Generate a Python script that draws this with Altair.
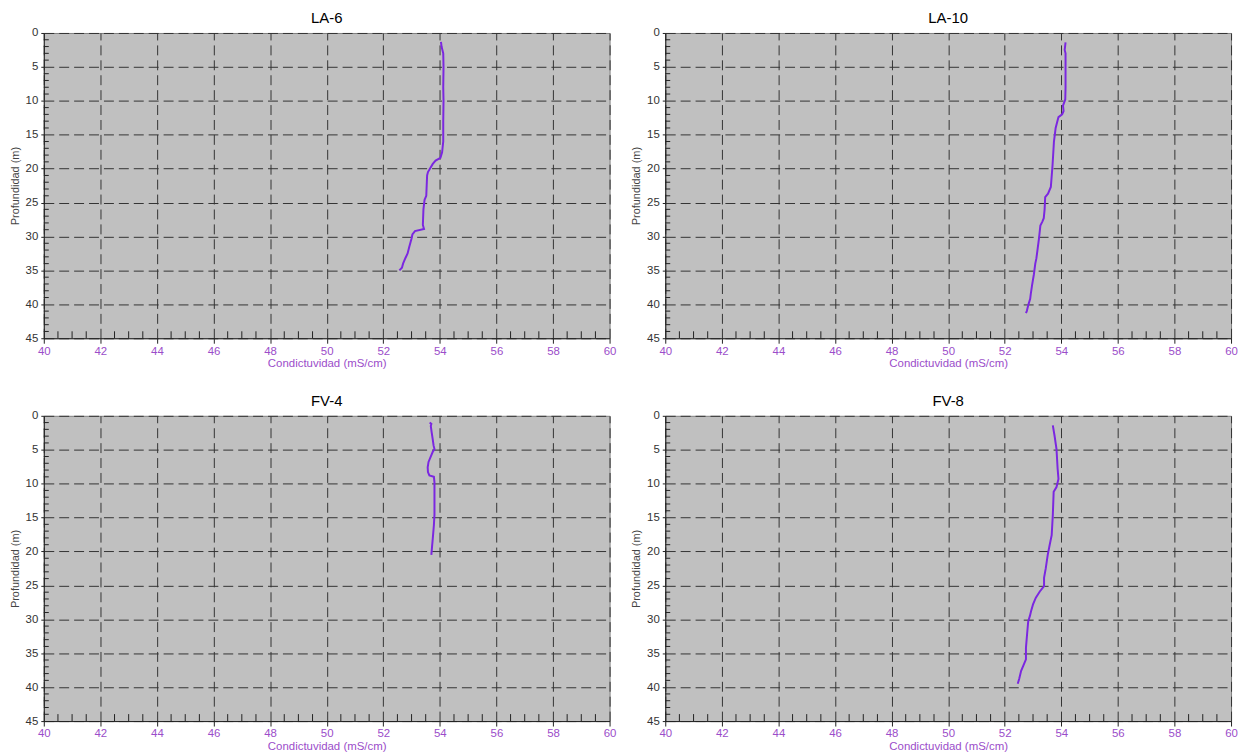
import altair as alt
import pandas as pd

# ---- data ----
stations = ["LA-6", "LA-10", "FV-4", "FV-8"]

la6_depth = [1.3, 2.0, 3.0, 5.0, 8.0, 10.0, 13.0, 16.0, 17.6, 18.4, 18.8, 19.3, 19.8, 20.5, 21.0,
             22.0, 24.0, 24.6, 26.0, 28.3, 28.9, 29.2, 29.7, 30.3, 31.5, 32.5, 33.2, 34.0, 34.6, 35.0]
la6_cond = [54.04, 54.06, 54.12, 54.13, 54.12, 54.13, 54.12, 54.12, 54.08, 54.02, 53.85, 53.75, 53.68,
            53.58, 53.55, 53.54, 53.52, 53.46, 53.42, 53.40, 53.44, 53.12, 53.03, 53.00, 52.92, 52.86,
            52.78, 52.70, 52.66, 52.57]

la10_depth = [1.4, 2.5, 3.0, 5.0, 8.0, 9.8, 10.7, 11.5, 12.0, 12.4, 13.2, 14.0, 16.0, 19.5, 22.7, 23.7,
              24.2, 26.0, 27.3, 27.8, 28.4, 30.3, 33.2, 34.0, 35.6, 37.1, 38.5, 39.2, 40.0, 41.0, 41.3]
la10_cond = [54.15, 54.12, 54.15, 54.15, 54.15, 54.14, 54.06, 54.08, 54.03, 53.90, 53.85, 53.80, 53.74,
             53.69, 53.63, 53.53, 53.43, 53.41, 53.38, 53.33, 53.26, 53.21, 53.12, 53.08, 53.03, 52.97,
             52.92, 52.90, 52.84, 52.78, 52.75]

fv4_depth = [1.0, 1.2, 1.5, 2.4, 3.5, 4.4, 4.9, 5.3, 5.8, 6.8, 7.6, 8.3, 8.8, 9.0, 9.8, 12.0, 14.6,
             16.1, 18.1, 19.5, 20.5]
fv4_cond = [53.64, 53.70, 53.68, 53.71, 53.75, 53.78, 53.81, 53.75, 53.70, 53.60, 53.57, 53.58, 53.63,
            53.79, 53.81, 53.81, 53.81, 53.79, 53.75, 53.72, 53.70]

fv8_depth = [1.4, 2.9, 4.9, 7.8, 9.3, 10.5, 11.2, 14.6, 17.6, 19.0, 20.5, 22.5, 23.9, 25.1, 25.9, 26.8,
             27.8, 28.8, 29.5, 30.3, 32.2, 34.2, 35.9, 36.6, 37.6, 38.8, 39.5]
fv8_cond = [53.70, 53.76, 53.83, 53.87, 53.90, 53.83, 53.73, 53.70, 53.66, 53.59, 53.52, 53.45, 53.39,
            53.39, 53.24, 53.10, 53.00, 52.93, 52.89, 52.83, 52.79, 52.75, 52.75, 52.68, 52.58, 52.51,
            52.46]

x_major = [40, 42, 44, 46, 48, 50, 52, 54, 56, 58, 60]
y_major = [0, 5, 10, 15, 20, 25, 30, 35, 40, 45]
y_minor = [d for d in range(1, 45) if d % 5]
x_minor = [40 + 0.5 * i for i in range(1, 40) if i % 4]

series = {
    "LA-6": (la6_depth, la6_cond),
    "LA-10": (la10_depth, la10_cond),
    "FV-4": (fv4_depth, fv4_cond),
    "FV-8": (fv8_depth, fv8_cond),
}

# ---- style ----
W, H = 569, 307
FONT = "Liberation Sans"
LINE = "#7b27e0"
PURPLE = "#9b4dca"
GRID = "#333333"

xs = alt.Scale(domain=[40, 60], nice=False, zero=False)
ys = alt.Scale(domain=[0, 45], reverse=True, nice=False, zero=False)

x_axis = alt.Axis(
    title="Condictuvidad (mS/cm)", values=x_major, tickSize=5, tickColor="#222",
    domainColor="#222", labelColor=PURPLE, labelFontSize=11.5, labelFont=FONT,
    labelPadding=2, labelFlush=False, labelOverlap=False,
    titleColor=PURPLE, titleFontSize=11.5, titleFont=FONT, titleFontWeight="normal",
    titlePadding=1, grid=True, gridDash=[10, 5], gridColor=GRID, gridWidth=1, gridOpacity=1)
y_axis = alt.Axis(
    title="Profundidad (m)", values=y_major, tickSize=3, tickColor="#222",
    domainColor="#222", labelColor="#333333", labelFontSize=11.5, labelFont=FONT,
    labelPadding=3, labelFlush=False, labelOverlap=False,
    titleColor="#444444", titleFontSize=11, titleFont=FONT, titleFontWeight="normal",
    titlePadding=5, grid=True, gridDash=[10, 5], gridColor=GRID, gridWidth=1, gridOpacity=1)


def panel(name):
    depth, cond = series[name]
    df = pd.DataFrame({"depth": depth, "cond": cond, "i": list(range(len(depth)))})
    line = alt.Chart(df).mark_line(color=LINE, strokeWidth=2, clip=True).encode(
        x=alt.X("cond:Q", scale=xs, axis=x_axis),
        y=alt.Y("depth:Q", scale=ys, axis=y_axis),
        order=alt.Order("i:Q"),
    )
    ymin = alt.Chart(pd.DataFrame({"depth": y_minor})).mark_rule(color="#222", strokeWidth=1).encode(
        y=alt.Y("depth:Q", scale=ys, axis=y_axis), x=alt.value(0), x2=alt.value(5))
    xmin = alt.Chart(pd.DataFrame({"cond": x_minor})).mark_rule(color="#222", strokeWidth=1).encode(
        x=alt.X("cond:Q", scale=xs, axis=x_axis), y=alt.value(H - 7), y2=alt.value(H))
    return alt.layer(line, ymin, xmin).properties(
        width=W, height=H,
        title=alt.TitleParams(name, fontSize=15, font=FONT, fontWeight="normal",
                              anchor="middle", offset=1, color="#000000"))


top = alt.hconcat(panel("LA-6"), panel("LA-10"), spacing=13)
bottom = alt.hconcat(panel("FV-4"), panel("FV-8"), spacing=13)
chart = alt.vconcat(top, bottom, spacing=23).properties(
    padding={"left": 0, "top": 0, "right": 0, "bottom": 0}
).configure(
    background="#ffffff"
).configure_view(
    fill="#c0c0c0", stroke="#808080", strokeWidth=1
)

chart.save("out.html", embed_options={"renderer": "svg", "actions": False})
